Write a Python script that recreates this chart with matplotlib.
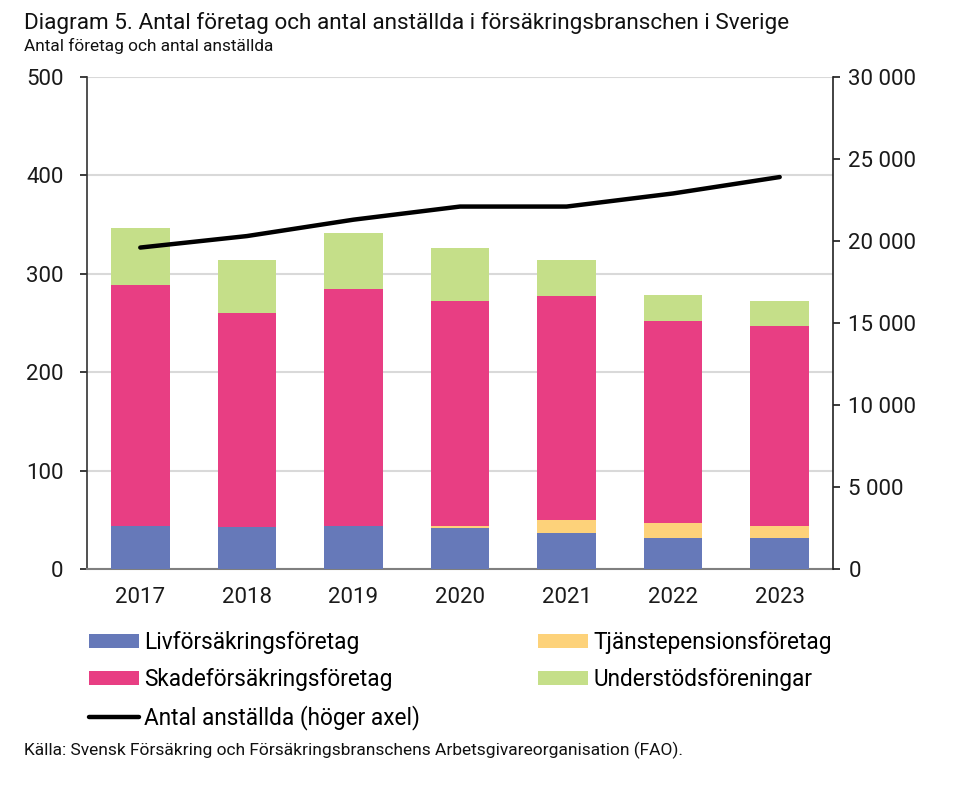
import numpy as np
import matplotlib.pyplot as plt
from matplotlib.ticker import FuncFormatter

plt.rcParams['font.family'] = ['Roboto', 'DejaVu Sans']

years = ['2017', '2018', '2019', '2020', '2021', '2022', '2023']
liv = [44, 43, 44, 42, 37, 31, 31]
tjp = [0, 0, 0, 2, 13, 16, 13]
skade = [245, 217, 241, 228, 227, 205, 203]
unders = [58, 54, 56, 54, 37, 26, 25]
anstallda = [19600, 20300, 21300, 22100, 22100, 22900, 23900]

c_liv = '#6679b9'
c_tjp = '#fdd27a'
c_skade = '#e83e83'
c_unders = '#c5df89'

fig = plt.figure(figsize=(9.74, 7.87), dpi=100)
ax = fig.add_axes([87/974, 1-569/787, (833-87)/974, (569-77)/787])
ax2 = ax.twinx()

x = np.arange(len(years))
w = 0.55
liv = np.array(liv)
tjp = np.array(tjp)
skade = np.array(skade)
unders = np.array(unders)

b1 = ax.bar(x, liv, w, color=c_liv, label='Livförsäkringsföretag', zorder=3)
b2 = ax.bar(x, tjp, w, bottom=liv, color=c_tjp, label='Tjänstepensionsföretag', zorder=3)
b3 = ax.bar(x, skade, w, bottom=liv+tjp, color=c_skade, label='Skadeförsäkringsföretag', zorder=3)
b4 = ax.bar(x, unders, w, bottom=liv+tjp+skade, color=c_unders, label='Understödsföreningar', zorder=3)
l1, = ax2.plot(x, anstallda, color='black', lw=3.2, solid_capstyle='round',
               solid_joinstyle='round', label='Antal anställda (höger axel)')

ax.set_xlim(-0.5, 6.5)
ax.set_ylim(0, 500)
ax.set_yticks(np.arange(0, 501, 100))
ax2.set_ylim(0, 30000)
ax2.set_yticks(np.arange(0, 30001, 5000))
ax2.yaxis.set_major_formatter(FuncFormatter(lambda v, p: f'{int(v):,}'.replace(',', ' ')))

ax.set_xticks(x)
ax.set_xticklabels(years)
ax.yaxis.grid(True, color='#d9d9d9', lw=1.5, zorder=0)
ax.set_axisbelow(True)

ax.tick_params(axis='x', length=0, pad=13, labelsize=16, colors='#1a1a1a')
ax.tick_params(axis='y', length=5, width=1.2, pad=12, labelsize=16, colors='#1a1a1a')
ax2.tick_params(axis='y', length=5, width=1.2, pad=6, labelsize=16, colors='#1a1a1a')

for a in (ax, ax2):
    a.spines['top'].set_visible(False)
ax.spines['left'].set_color('#333333')
ax.spines['left'].set_linewidth(1.2)
ax2.spines['left'].set_visible(False)
ax2.spines['right'].set_color('#222222')
ax2.spines['right'].set_linewidth(1.2)
ax.spines['right'].set_visible(False)
ax.spines['bottom'].set_color('#7f7f7f')
ax.spines['bottom'].set_linewidth(1.5)
ax2.spines['bottom'].set_visible(False)

fig.text(24/974, 1-29.5/787, 'Diagram 5. Antal företag och antal anställda i försäkringsbranschen i Sverige',
         fontsize=16.2, color='#111111', va='baseline', ha='left')
fig.text(24/974, 1-51.5/787, 'Antal företag och antal anställda',
         fontsize=12.4, color='#111111', va='baseline', ha='left')
fig.text(24/974, 1-755/787,
         'Källa: Svensk Försäkring och Försäkringsbranschens Arbetsgivareorganisation (FAO).',
         fontsize=12.5, color='#111111', va='baseline', ha='left')

handles = [b1, b3, l1, b2, b4]
labels = [h.get_label() for h in handles]
fig.legend(handles, labels, ncol=2, loc='upper left', bbox_to_anchor=(89/974, 1-631/787),
           frameon=False, fontsize=16.3, borderpad=0, borderaxespad=0,
           handlelength=2.2, handleheight=0.55, handletextpad=0.25,
           labelspacing=0.62, columnspacing=5.2)

fig.savefig('out.png', dpi=100)
